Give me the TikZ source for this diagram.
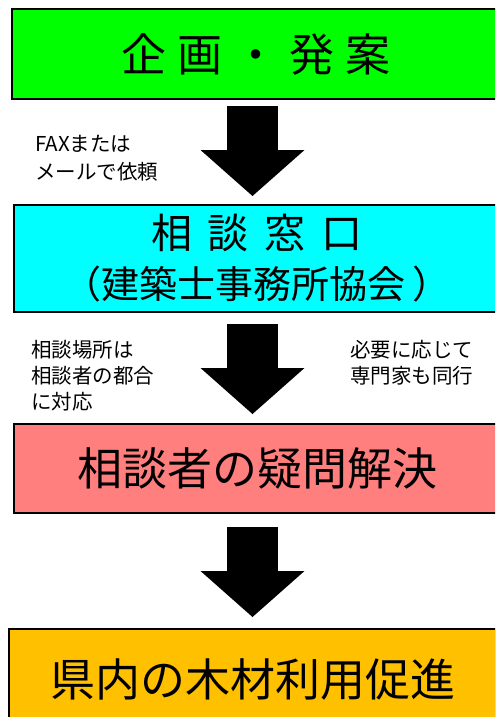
\documentclass[tikz,border=0pt]{standalone}
\usepackage{fontspec}
\setmainfont{Noto Sans CJK JP}
\usetikzlibrary{arrows.meta}
\definecolor{plangreen}{HTML}{00FF00}
\definecolor{deskcyan}{HTML}{00FFFF}
\definecolor{solvepink}{HTML}{FF7F7F}
\definecolor{woodorange}{HTML}{FFC000}
\tikzset{
  stage/.style={draw, line width=2.5pt, outer sep=0pt, inner sep=0pt, align=center},
  flow/.style={line width=51pt, -{Triangle[width=104pt, length=46pt, line width=0pt]}},
  note/.style={anchor=north west, inner sep=0pt, align=left}
}
\begin{document}
\begin{tikzpicture}[x=1pt, y=-1pt]
    \useasboundingbox (0,0) rectangle (495,717);
    \clip (0,0) rectangle (495,717);

    % Stage boxes (the upper three run off the right edge)
    \node[stage, fill=plangreen, minimum width=496pt, minimum height=90pt,
          font=\fontsize{45}{50}\selectfont] (plan) at (260,54)
        {企\hspace{11pt}画\hspace{11pt}・\hspace{11pt}発\hspace{11pt}案\hspace*{8pt}};
    \node[stage, fill=deskcyan, minimum width=494pt, minimum height=107pt,
          font=\fontsize{41}{50}\selectfont] (desk) at (261,258.5)
        {相\hspace{16pt}談\hspace{16pt}窓\hspace{16pt}口\hspace*{8pt}\\
         {\fontsize{38}{50}\selectfont （建築士事務所協会\hspace{7pt}）\hspace*{8pt}}};
    \node[stage, fill=solvepink, minimum width=494pt, minimum height=89pt,
          font=\fontsize{45}{50}\selectfont] (solve) at (261,468.5)
        {相談者の疑問解決\hspace*{8pt}};
    \node[stage, fill=woodorange, minimum width=487pt, minimum height=101pt,
          font=\fontsize{45}{50}\selectfont] (wood) at (252.5,679.5)
        {県内の木材利用促進};

    % Block arrows between the boxes
    \draw[flow, shorten <=7pt, shorten >=9pt]
        ([xshift=-7.5pt]plan.south) -- ([xshift=-7.5pt]plan.south |- desk.north);
    \draw[flow, shorten <=12pt, shorten >=10pt]
        ([xshift=-8.5pt]desk.south) -- ([xshift=-8.5pt]desk.south |- solve.north);
    \draw[flow, shorten <=14pt, shorten >=12pt]
        ([xshift=-8.5pt]solve.south) -- ([xshift=-8.5pt]solve.south |- wood.north);

    % Side notes
    \node[note, font=\fontsize{20.5}{28}\selectfont] (fax) at (35,135)
        {FAXまたは\\メールで依頼};
    \node[note, font=\fontsize{20.5}{26}\selectfont] (place) at (31,340)
        {相談場所は\\相談者の都合\\に対応};
    \node[note, font=\fontsize{20.5}{26}\selectfont] (expert) at (350,340)
        {必要に応じて\\専門家も同行};
\end{tikzpicture}
\end{document}
